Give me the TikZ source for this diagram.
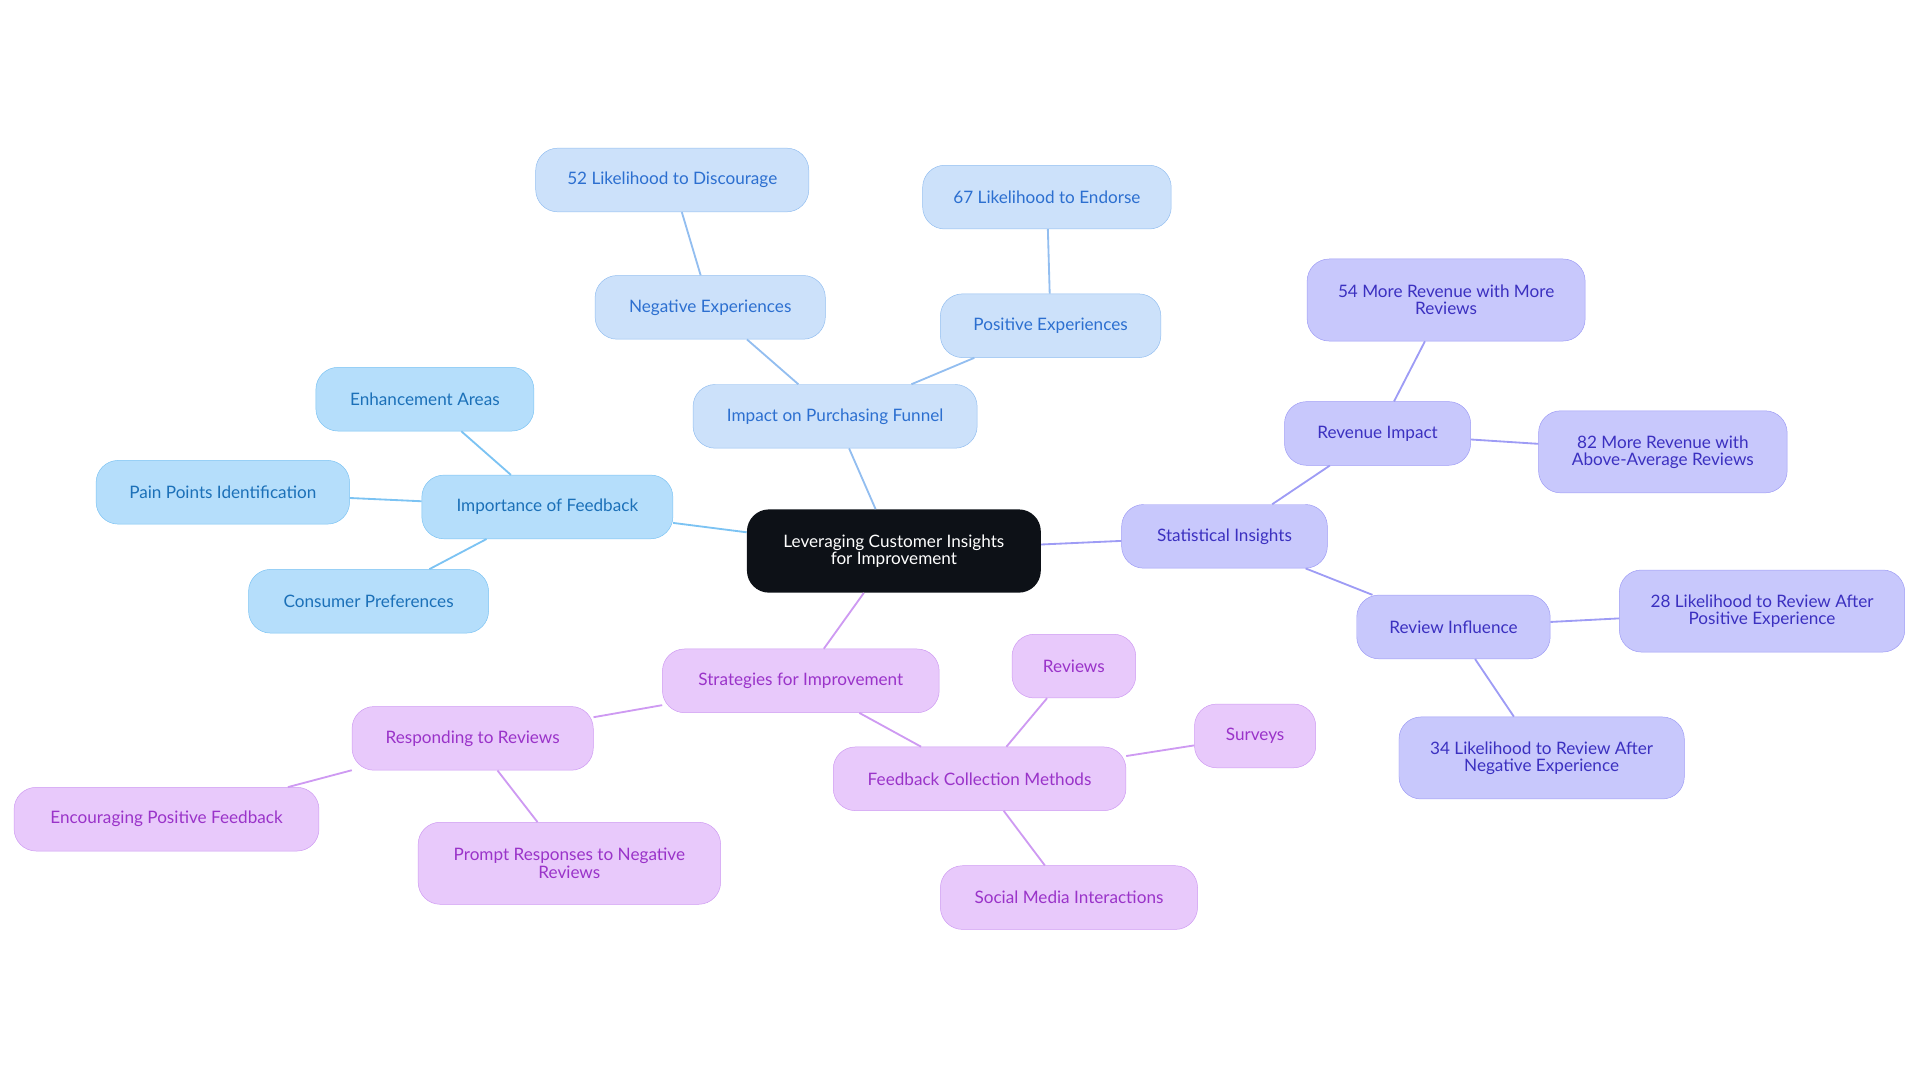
\documentclass[tikz,border=0pt]{standalone}
\usepackage{fontspec}
\setmainfont{Lato}
\usepackage{xcolor}
\definecolor{fillA}{HTML}{B5DEFB}
\definecolor{drawA}{HTML}{7CC3F3}
\definecolor{textA}{HTML}{1B70B8}
\definecolor{fillB}{HTML}{CCE1FA}
\definecolor{drawB}{HTML}{93BEF0}
\definecolor{textB}{HTML}{2C6FD0}
\definecolor{fillC}{HTML}{C8C8FC}
\definecolor{drawC}{HTML}{9E9CF5}
\definecolor{textC}{HTML}{3B30C0}
\definecolor{fillD}{HTML}{E8C9FB}
\definecolor{drawD}{HTML}{CE9AF2}
\definecolor{textD}{HTML}{9A33C9}
\definecolor{rootfill}{HTML}{0D1117}
\tikzset{
  box/.style={rounded corners=18pt, minimum height=52pt, align=center, font=\fontsize{14}{14}\selectfont, inner sep=4pt},
  grpA/.style={box, fill=fillA, draw=drawA, text=textA},
  grpB/.style={box, fill=fillB, draw=drawB, text=textB},
  grpC/.style={box, fill=fillC, draw=drawC, text=textC},
  grpD/.style={box, fill=fillD, draw=drawD, text=textD},
  linkA/.style={drawA, line width=1.5pt},
  linkB/.style={drawB, line width=1.5pt},
  linkC/.style={drawC, line width=1.5pt},
  linkD/.style={drawD, line width=1.5pt}
}
\begin{document}
\begin{tikzpicture}[x=1pt,y=-1pt]
    \useasboundingbox (0,0) rectangle (1568,884);

    % Centro
    \node[box, fill=rootfill, text=white, minimum width=240pt, minimum height=68pt] (root) at (730,450) {Leveraging Customer Insights\\for Improvement};

    % Importancia del feedback
    \node[grpA, minimum width=205pt] (imp) at (447,414) {Importance of Feedback};
    \node[grpA, minimum width=178pt] (enh) at (347,326) {Enhancement Areas};
    \node[grpA, minimum width=207pt] (pain) at (182,402) {Pain Points Identification};
    \node[grpA, minimum width=196pt] (cons) at (301,491) {Consumer Preferences};

    % Embudo de compra
    \node[grpB, minimum width=232pt] (fun) at (682,340) {Impact on Purchasing Funnel};
    \node[grpB, minimum width=188pt] (neg) at (580,251) {Negative Experiences};
    \node[grpB, minimum width=223pt] (disc) at (549,147) {52 Likelihood to Discourage};
    \node[grpB, minimum width=180pt] (pos) at (858,266) {Positive Experiences};
    \node[grpB, minimum width=203pt] (endo) at (855,161) {67 Likelihood to Endorse};

    % Datos estadísticos
    \node[grpC, minimum width=168pt] (stat) at (1000,438) {Statistical Insights};
    \node[grpC, minimum width=152pt] (rev) at (1125,354) {Revenue Impact};
    \node[grpC, minimum width=227pt, minimum height=67pt] (more) at (1181,245) {54 More Revenue with More\\Reviews};
    \node[grpC, minimum width=203pt, minimum height=67pt] (above) at (1358,369) {82 More Revenue with\\Above-Average Reviews};
    \node[grpC, minimum width=158pt] (infl) at (1187,512) {Review Influence};
    \node[grpC, minimum width=233pt, minimum height=67pt] (after) at (1439,499) {28 Likelihood to Review After\\Positive Experience};
    \node[grpC, minimum width=233pt, minimum height=67pt] (negexp) at (1259,619) {34 Likelihood to Review After\\Negative Experience};

    % Estrategias
    \node[grpD, minimum width=226pt] (strat) at (654,556) {Strategies for Improvement};
    \node[grpD, minimum width=197pt] (resp) at (386,603) {Responding to Reviews};
    \node[grpD, minimum width=249pt] (enc) at (136,669) {Encouraging Positive Feedback};
    \node[grpD, minimum width=247pt, minimum height=67pt] (prompt) at (465,705) {Prompt Responses to Negative\\Reviews};
    \node[grpD, minimum width=239pt] (coll) at (800,636) {Feedback Collection Methods};
    \node[grpD, minimum width=101pt] (revs) at (877,544) {Reviews};
    \node[grpD, minimum width=99pt] (surv) at (1025,601) {Surveys};
    \node[grpD, minimum width=210pt] (soc) at (873,733) {Social Media Interactions};

    % Conexiones
    \draw[linkA] (root) -- (imp);
    \foreach \n in {enh,pain,cons}
        \draw[linkA] (imp) -- (\n);
    \draw[linkB] (root) -- (fun);
    \draw[linkB] (fun) -- (neg);
    \draw[linkB] (neg) -- (disc);
    \draw[linkB] (fun) -- (pos);
    \draw[linkB] (pos) -- (endo);
    \draw[linkC] (root) -- (stat);
    \draw[linkC] (stat) -- (rev);
    \draw[linkC] (rev) -- (more);
    \draw[linkC] (rev) -- (above);
    \draw[linkC] (stat) -- (infl);
    \draw[linkC] (infl) -- (after);
    \draw[linkC] (infl) -- (negexp);
    \draw[linkD] (root) -- (strat);
    \draw[linkD] (strat) -- (resp);
    \draw[linkD] (resp) -- (enc);
    \draw[linkD] (resp) -- (prompt);
    \draw[linkD] (strat) -- (coll);
    \foreach \n in {revs,surv,soc}
        \draw[linkD] (coll) -- (\n);
\end{tikzpicture}
\end{document}
